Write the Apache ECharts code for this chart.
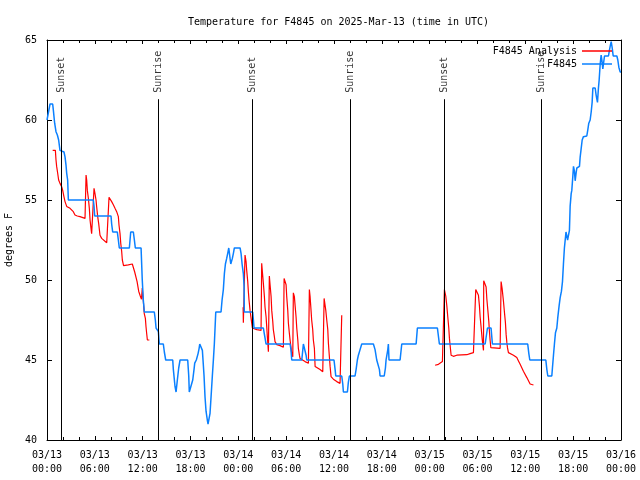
<!DOCTYPE html>
<html>
<head>
<meta charset="utf-8">
<script src="https://cdn.jsdelivr.net/npm/echarts@6/dist/echarts.min.js"></script>
<style>html,body{margin:0;padding:0;background:#fff;}#c{width:640px;height:480px;}</style>
</head>
<body>
<div id="c"></div>
<script>
// hours since 2025-03-13 00:00 UTC
var xTickLabels = ['03/13\n00:00','03/13\n06:00','03/13\n12:00','03/13\n18:00','03/14\n00:00','03/14\n06:00','03/14\n12:00','03/14\n18:00','03/15\n00:00','03/15\n06:00','03/15\n12:00','03/15\n18:00','03/16\n00:00'];
var sunHours = [1.8, 14.0, 25.8, 38.0, 49.8, 62.0];
var sunNames = ['Sunset','Sunrise','Sunset','Sunrise','Sunset','Sunrise'];

var obsHours = [0.0,0.38,0.71,0.8,0.96,1.13,1.3,1.46,1.63,2.13,2.26,2.38,2.47,2.59,2.68,5.81,5.9,5.98,8.03,8.11,8.24,8.82,8.95,9.07,10.33,10.5,10.83,10.96,11.08,11.8,11.95,12.08,12.21,13.46,13.59,13.68,13.89,13.97,14.05,14.09,14.59,14.72,14.89,15.77,15.85,16.06,16.19,16.35,16.52,16.69,17.65,17.78,17.85,18.1,18.28,18.44,18.53,18.73,18.95,19.07,19.16,19.36,19.49,19.57,19.7,19.82,19.95,20.11,20.2,20.36,20.45,20.58,20.74,20.87,20.99,21.08,21.17,21.83,21.96,22.12,22.25,22.38,22.54,22.67,22.8,22.96,23.05,23.17,23.25,23.38,23.5,24.22,24.34,24.47,24.55,24.63,24.72,24.75,25.8,25.89,25.97,27.14,27.27,27.48,30.49,30.6,30.7,31.96,32.08,32.16,32.37,32.5,32.58,36.0,36.14,36.22,36.97,37.1,37.18,37.68,37.8,37.93,38.64,38.77,38.93,39.06,39.27,39.48,40.94,41.15,41.36,41.7,41.78,42.3,42.45,42.53,42.75,42.82,42.9,44.29,44.5,46.3,46.46,48.97,49.22,54.96,55.25,55.7,55.87,60.3,60.44,60.56,62.57,62.7,62.82,63.32,63.4,63.53,63.65,63.78,63.95,64.08,64.24,64.37,64.53,64.66,64.78,64.9,65.1,65.3,65.53,65.62,65.75,65.83,65.96,66.04,66.16,66.25,66.37,66.46,66.79,66.88,67.0,67.13,67.29,67.71,67.84,67.96,68.13,68.26,68.38,68.47,68.76,68.88,68.97,69.05,69.17,69.26,69.39,69.51,69.6,69.72,69.8,69.93,70.43,70.56,70.64,70.77,70.9,71.02,71.48,71.6,71.73,71.9,72.0];
var obsTemps = [60,61,61,60.6,59.8,59.27,59.06,58.75,58.1,58,57.7,57.2,56.67,56.25,55,55,54.6,54,54,53.5,53,53,52.5,52,52,53,53,52.5,52,52,50,48.75,48,48,47.5,47,47,46.77,46.25,46,46,45.5,45,45,44.4,43.33,43,43.75,44.5,45,45,44,43,43,43.75,44.4,44.8,45,45.4,45.7,46,46,45.6,45,44,42.7,41.8,41.25,41,41,41.67,42.7,44,45,46,47,48,48,48.75,49.4,50.4,51,51.35,51.67,52,52,51,51,51.35,51.67,52,52,51.67,51,50.7,50.4,49.6,48,48,47.5,47,47,46.6,46,46,45.65,45,45,45.6,46,46,45.3,45,45,44.4,44,44,43.5,43,43,43.6,44,44,44.4,45,45.3,45.65,46,46,45.65,45,44.4,44,44,44.5,45,45.65,46,45,45,46,46,47,47,46,46,47,47,46,46,45.4,45,45,44.4,44,44,44.5,45.3,46,46.7,47,47.7,48.4,48.9,49.3,49.9,51,52,53,52.5,53.1,54.6,55.4,55.6,56.5,57.1,56.8,56.2,56.7,57,57.1,57.7,58.2,58.75,58.96,59,59.4,59.8,60,60.5,61.1,62,62,61.56,61.3,61.1,62,62.5,63.5,64.06,63.75,63.2,63.5,64,64,64.4,64.6,64.9,64.5,64,64,63.75,63.3,63,63];

// null temperature = gap in the analysis series
var anaHours = [0.71,1.05,1.13,1.21,1.34,1.46,1.63,1.84,1.97,2.13,2.26,2.47,2.68,2.89,3.3,3.51,3.8,4.14,4.77,4.9,4.98,5.06,5.19,5.31,5.4,5.52,5.6,5.8,5.9,6.02,6.15,6.23,6.36,6.48,6.65,6.86,7.07,7.49,7.7,7.78,7.9,8.11,8.32,8.53,8.74,8.95,9.03,9.16,9.25,9.37,9.45,9.6,10.2,10.7,11.0,11.3,11.5,11.7,11.85,11.95,12.08,12.2,12.34,12.42,12.5,12.59,12.84,
  18.0,
  24.6,24.63,24.84,24.97,25.05,25.18,25.26,25.34,25.47,25.6,25.68,25.76,25.89,26.31,26.85,26.93,27.02,27.14,27.27,27.35,27.48,27.56,27.64,27.77,27.89,27.98,28.11,28.19,28.32,28.39,28.52,28.6,28.82,29.23,29.65,29.74,29.86,29.99,30.07,30.2,30.28,30.4,30.49,30.62,30.7,30.83,30.9,31.03,31.12,31.24,31.33,31.46,31.53,31.66,31.74,31.96,32.37,32.79,32.91,33.0,33.12,33.2,33.33,33.41,33.54,33.63,33.84,34.25,34.59,34.76,34.88,34.97,35.09,35.22,35.3,35.42,35.51,35.63,35.92,36.35,36.76,36.97,
  42.0,
  48.68,49.1,49.6,49.72,49.85,50.02,50.15,50.27,50.4,50.48,50.56,50.69,50.78,50.98,51.4,52.66,53.07,53.49,53.7,53.78,53.99,54.12,54.24,54.33,54.45,54.58,54.67,54.75,54.78,54.96,55.08,55.17,55.3,55.42,55.5,55.58,55.67,55.8,56.84,56.96,57.09,57.25,57.38,57.5,57.59,57.68,57.76,57.88,58.09,58.51,58.93,59.14,59.35,59.76,60.19,60.6,60.82,61.02];
var anaTemps = [58.1,58.1,57.5,57.1,56.67,56.25,56.04,55.83,55.6,55.2,54.9,54.6,54.5,54.48,54.27,54.06,54.0,53.96,53.85,56.56,56.25,55.6,55.1,54.48,53.75,53.23,52.9,52.8,55.73,55.4,55.0,54.58,53.96,53.54,52.8,52.6,52.5,52.33,52.3,55.17,55.1,54.9,54.7,54.48,54.27,53.96,53.44,52.9,52.3,51.77,51.25,50.9,50.95,51.0,50.5,49.9,49.3,49.0,48.8,49.5,48.7,47.9,47.6,47.08,46.67,46.25,46.25,
  null,
  48.3,47.33,51.56,51.15,50.6,49.9,49.27,48.75,48.1,47.6,47.3,47.0,46.98,46.9,46.85,51.04,50.5,49.8,48.96,48.3,47.7,47.1,46.46,45.52,50.25,49.7,48.96,48.1,47.4,46.9,46.46,46.15,45.96,45.9,45.8,50.1,50.1,49.7,48.96,48.1,47.3,46.67,46.25,45.73,45.4,45.2,49.2,48.96,48.4,47.7,46.98,46.25,45.73,45.3,45.1,45.0,44.9,44.8,49.4,48.96,48.1,47.5,46.9,46.25,45.73,44.6,44.5,44.4,44.27,48.85,48.85,48.1,47.5,46.9,46.04,45.2,44.6,43.96,43.8,43.65,43.54,47.8,
  null,
  44.67,44.73,44.9,45.0,49.4,49.0,48.4,47.7,46.98,46.35,45.94,45.3,45.2,45.23,45.3,45.33,45.4,45.46,45.5,49.4,49.4,49.04,48.4,47.7,47.06,46.35,45.94,45.6,49.96,49.96,49.56,48.83,48.1,47.4,46.77,46.25,45.77,45.73,45.73,49.9,49.46,48.7,47.98,47.35,46.6,46.1,45.77,45.46,45.46,45.3,45.15,44.94,44.73,44.3,43.9,43.5,43.44,43.44];

var FONT = 'DejaVu Sans Mono';
var obsData = obsHours.map(function (h, i) { return [h, obsTemps[i]]; });
var anaData = anaHours.map(function (h, i) { return [h, anaTemps[i] == null ? '-' : anaTemps[i]]; });

var sunLineTop = 61.3;   // where the vertical sun lines end (deg F)
var sunLabelAt = 61.7;   // where the rotated sun label begins
var sunLines = sunHours.map(function (h) { return [{coord: [h, 40]}, {coord: [h, sunLineTop]}]; });
var sunLabelData = sunHours.map(function (h, i) { return {value: [h, sunLabelAt], name: sunNames[i]}; });

var chart = echarts.init(document.getElementById('c'), null, {renderer: 'canvas'});
var xTicks = {show: true, inside: true, length: 4, lineStyle: {color: '#000'}};
var xMinor = {show: true, splitNumber: 3, length: 3, lineStyle: {color: '#000'}};
chart.setOption({
  animation: false,
  backgroundColor: '#fff',
  title: {text: 'Temperature for F4845 on 2025-Mar-13 (time in UTC)', left: 183, top: 12,
    textStyle: {fontFamily: FONT, fontSize: 10, fontWeight: 'normal', color: '#000'}},
  legend: {
    data: ['F4845 Analysis', 'F4845'], orient: 'vertical', right: 28, top: 46, align: 'right',
    icon: 'rect', itemWidth: 30, itemHeight: 1.5, itemGap: 3, padding: 0,
    textStyle: {fontFamily: FONT, fontSize: 10, color: '#000', lineHeight: 10},
    formatter: function (n) { var s = n; while (s.length < 14) s = ' ' + s; return s; }
  },
  grid: {left: 47, right: 19, top: 40, bottom: 40, containLabel: false, outerBoundsMode: 'none'},
  xAxis: [{
    type: 'value', min: 0, max: 72, interval: 6,
    axisLine: {show: true, onZero: false, lineStyle: {color: '#000', width: 1}},
    axisTick: xTicks, minorTick: xMinor,
    splitLine: {show: false},
    axisLabel: {show: true, margin: 8, lineHeight: 14, fontFamily: FONT, fontSize: 10, color: '#000',
      formatter: function (v) { return xTickLabels[Math.round(v / 6)]; }}
  }, {
    type: 'value', min: 0, max: 72, interval: 6, position: 'top',
    axisLine: {show: true, onZero: false, lineStyle: {color: '#000', width: 1}},
    axisTick: xTicks, minorTick: xMinor,
    splitLine: {show: false}, axisLabel: {show: false}
  }],
  yAxis: [{
    type: 'value', min: 40, max: 65, interval: 5,
    name: 'degrees F', nameLocation: 'middle', nameRotate: 90, nameGap: 32,
    nameTextStyle: {fontFamily: FONT, fontSize: 10, color: '#000'},
    axisLine: {show: true, onZero: false, lineStyle: {color: '#000', width: 1}},
    axisTick: {show: true, inside: true, length: 5, lineStyle: {color: '#000'}},
    splitLine: {show: false},
    axisLabel: {margin: 10, fontFamily: FONT, fontSize: 10, color: '#000'}
  }, {
    type: 'value', min: 40, max: 65, interval: 5, position: 'right',
    axisLine: {show: true, onZero: false, lineStyle: {color: '#000', width: 1}},
    axisTick: {show: true, inside: true, length: 5, lineStyle: {color: '#000'}},
    splitLine: {show: false}, axisLabel: {show: false}
  }],
  series: [{
    name: 'sun', type: 'scatter', symbolSize: 0, silent: true, data: sunLabelData,
    label: {show: true, position: [0, 0], rotate: 90, align: 'left', verticalAlign: 'middle',
      formatter: function (p) { return p.name; }, fontFamily: FONT, fontSize: 10, color: '#000'},
    markLine: {silent: true, symbol: ['none', 'none'], label: {show: false},
      lineStyle: {color: '#000', width: 1, type: 'solid'}, data: sunLines}
  }, {
    name: 'F4845 Analysis', type: 'line', data: anaData, symbol: 'none', showSymbol: false,
    connectNulls: false, lineStyle: {color: '#ff0000', width: 1.2}, itemStyle: {color: '#ff0000'}
  }, {
    name: 'F4845', type: 'line', data: obsData, symbol: 'none', showSymbol: false,
    lineStyle: {color: '#0a80ff', width: 1.5}, itemStyle: {color: '#0a80ff'}
  }]
});
</script>
</body>
</html>
